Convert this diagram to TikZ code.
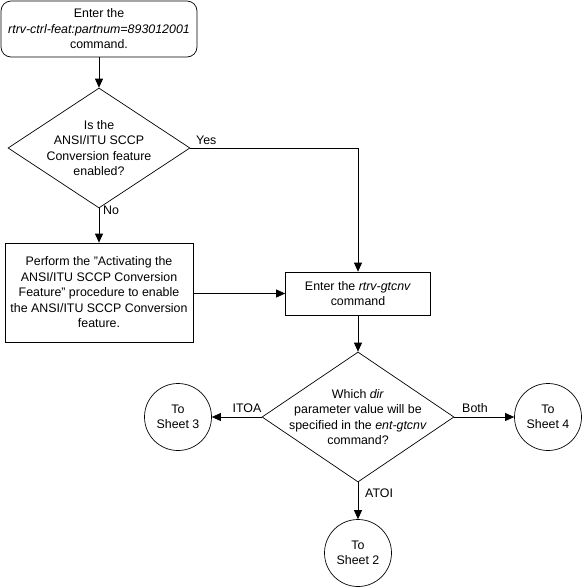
\documentclass[tikz,border=0pt]{standalone}
\usepackage{fontspec}
\setmainfont{Liberation Sans}
\usetikzlibrary{shapes.geometric,arrows.meta}
\begin{document}
\begin{tikzpicture}[x=1pt,y=1pt,
  every node/.style={font=\fontsize{12.4}{15.5}\selectfont},
  box/.style={draw,line width=0.7pt,inner sep=0pt},
  rbox/.style={box,rounded corners=10pt},
  dia/.style={draw,line width=0.7pt,shape=diamond,inner sep=0pt},
  conn/.style={draw,circle,line width=0.7pt,inner sep=0pt,minimum size=67pt,align=center},
  txt/.style={align=center,inner sep=0pt},
  lbl/.style={inner sep=0pt},
  arr/.style={line width=0.7pt,-{Triangle[length=9pt,width=8pt]}},
  ln/.style={line width=0.7pt}]
\useasboundingbox (0,0) rectangle (584,-587);
\node[rbox,minimum width=196pt,minimum height=56pt] (start) at (99,-29) {};
\node[txt] (starttxt) at (start) {Enter the\\\textit{rtrv-ctrl-feat:partnum=893012001}\\command.};
\node[dia,minimum width=182pt,minimum height=120pt] (d1) at (99,-148) {};
\node[txt] (d1txt) at (d1) {Is the\\ANSI/ITU SCCP\\Conversion feature\\enabled?};
\node[box,minimum width=188pt,minimum height=99pt] (proc) at (99,-292.5) {};
\node[txt] (proctxt) at (proc) {Perform the {\char34}Activating the\\ANSI/ITU SCCP Conversion\\Feature{\char34} procedure to enable\\the ANSI/ITU SCCP Conversion\\feature.};
\node[box,minimum width=145pt,minimum height=43pt] (rtrv) at (358,-293.5) {};
\node[txt] (rtrvtxt) at (rtrv) {Enter the \textit{rtrv-gtcnv}\\command};
\node[dia,minimum width=192pt,minimum height=130pt] (d2) at (358,-417) {};
\node[txt] (d2txt) at (d2) {Which \textit{dir}\\parameter value will be\\specified in the \textit{ent-gtcnv}\\command?};
\node[conn] (c3) at (178,-417) {To\\Sheet 3};
\node[conn] (c4) at (548,-417) {To\\Sheet 4};
\node[conn] (c2) at (358,-553) {To\\Sheet 2};
\draw[arr] (start) -- (d1);
\draw[arr] (d1.east) -| (rtrv.north);
\draw[arr] (d1.south) -- (proc.north);
\draw[arr] (proc.east |- rtrv) -- (rtrv.west);
\draw[arr] (rtrv) -- (d2);
\draw[arr] (d2.west) -- (c3.east);
\draw[arr] (d2.east) -- (c4.west);
\draw[arr] (d2.south) -- (c2.north);
\node[lbl,anchor=south west] (yes) at (196,-145) {Yes};
\node[lbl,anchor=north west] (no) at (103,-206) {No};
\node[lbl,anchor=south] (itoa) at (247,-413) {ITOA};
\node[lbl,anchor=south] (both) at (475,-413) {Both};
\node[lbl,anchor=west] (atoi) at (365,-493) {ATOI};
\end{tikzpicture}
\end{document}
